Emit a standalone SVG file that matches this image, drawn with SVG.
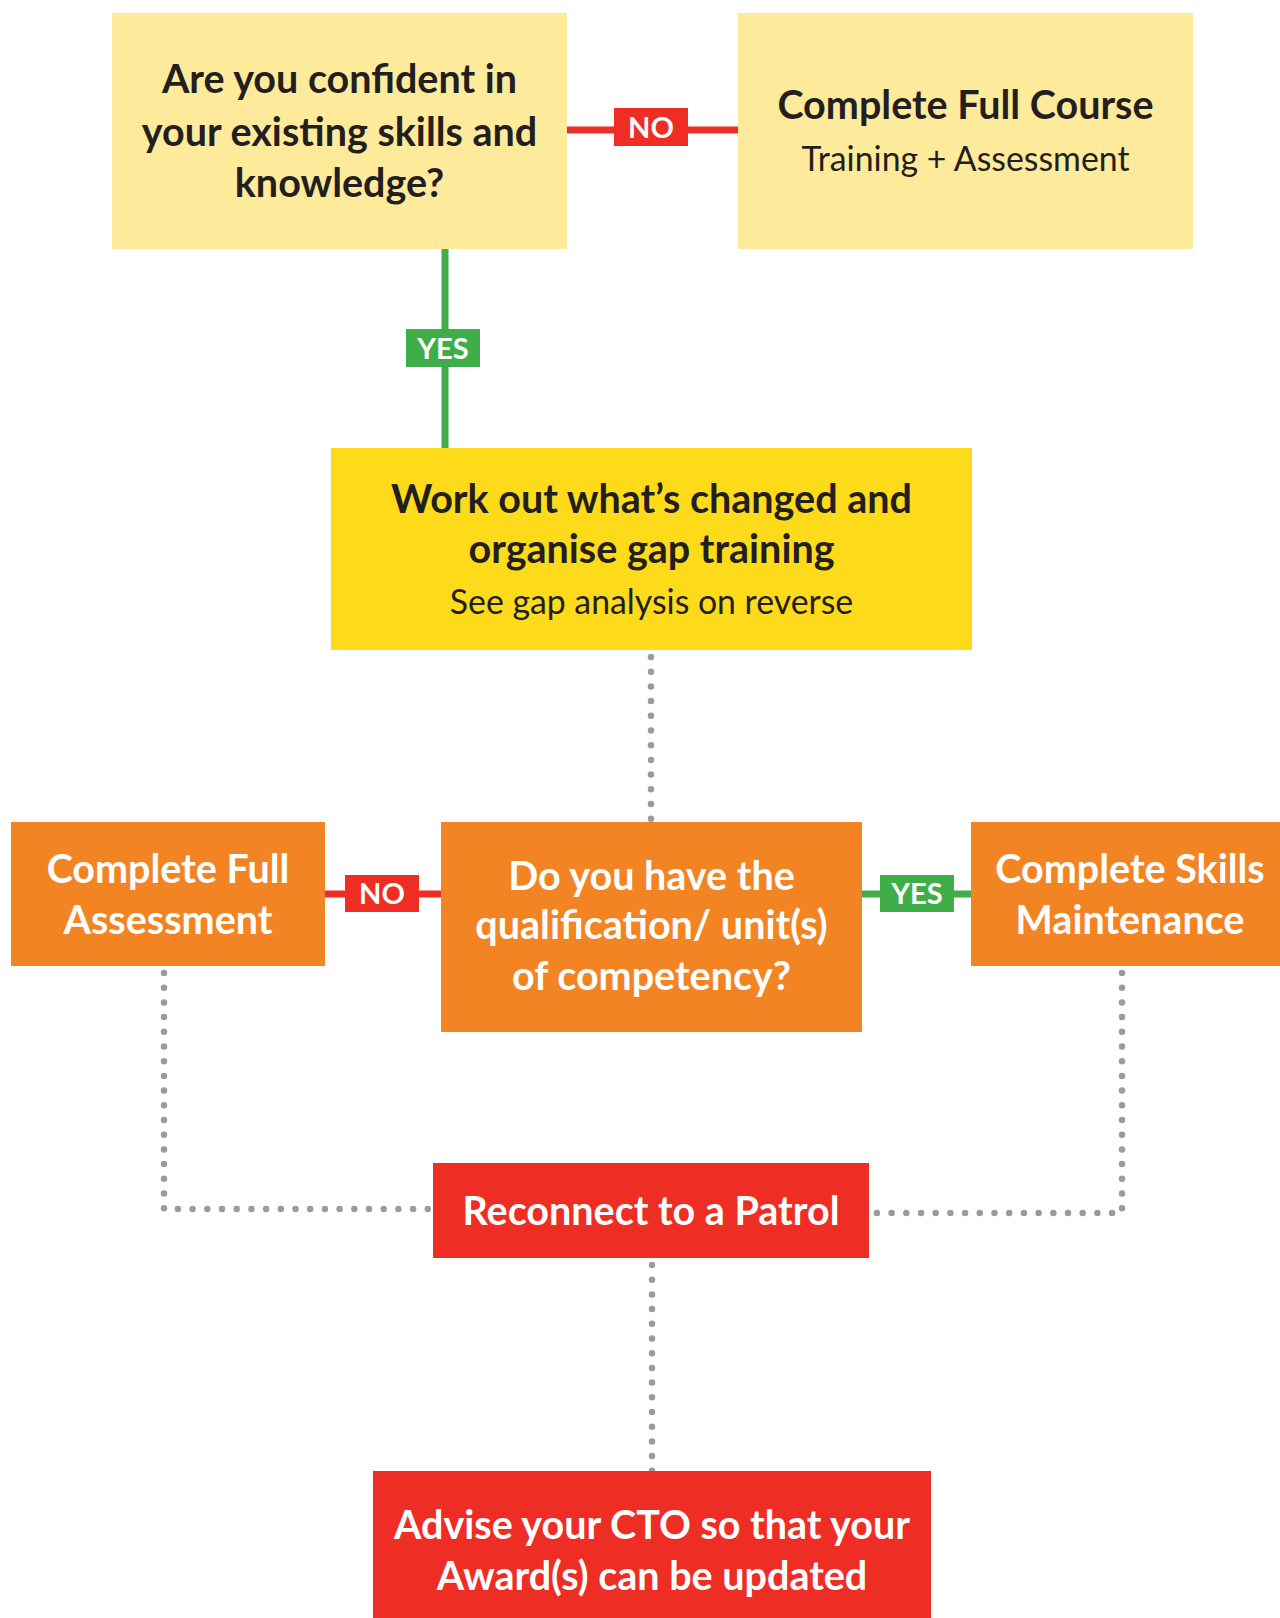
<svg xmlns="http://www.w3.org/2000/svg" width="1280" height="1618" viewBox="0 0 1280 1618">
<style>
text{font-family:Lato,"Open Sans","Liberation Sans",sans-serif;text-anchor:middle}
.b{font-weight:700;font-size:39.5px}
.r{font-weight:400;font-size:33.8px}
.dk{fill:#231f20}
.wt{fill:#ffffff}
.lbl{font-weight:700;font-size:29px;fill:#ffffff}
.dot{fill:none;stroke:#9b9b9f;stroke-width:6.5;stroke-linecap:round;stroke-dasharray:0 14.7}
</style>
<rect width="1280" height="1618" fill="#ffffff"/>
<g id="connectors">
  <line x1="567" y1="130" x2="738" y2="130" stroke="#ee2d24" stroke-width="7"/>
  <rect x="614" y="108" width="74" height="38" fill="#ee2d24"/>
  <text class="lbl" x="651" y="138">NO</text>
  <line x1="445" y1="249" x2="445" y2="448" stroke="#3fae49" stroke-width="7"/>
  <rect x="406" y="329" width="74" height="38" fill="#3fae49"/>
  <text class="lbl" x="443" y="359">YES</text>
  <line x1="325" y1="894" x2="441" y2="894" stroke="#ee2d24" stroke-width="7"/>
  <rect x="345" y="875" width="74" height="37" fill="#ee2d24"/>
  <text class="lbl" x="382" y="904">NO</text>
  <line x1="862" y1="894" x2="971" y2="894" stroke="#3fae49" stroke-width="7"/>
  <rect x="880" y="875" width="74" height="37" fill="#3fae49"/>
  <text class="lbl" x="917" y="904">YES</text>
  <path class="dot" d="M651 657 V822"/>
  <path class="dot" d="M164 973 V1209 H433"/>
  <path class="dot" d="M1122 973 V1213 H869"/>
  <path class="dot" d="M652 1265 V1471"/>
</g>
<g id="q1">
  <rect x="112" y="13" width="455" height="236" fill="#feea9b"/>
  <text class="b dk" x="339.5" y="93">Are you confident in</text>
  <text class="b dk" x="339.5" y="146">your existing skills and</text>
  <text class="b dk" x="339.5" y="197">knowledge?</text>
</g>
<g id="full-course">
  <rect x="738" y="13" width="455" height="236" fill="#feea9b"/>
  <text class="b dk" x="965.5" y="119">Complete Full Course</text>
  <text class="r dk" x="965.5" y="171">Training + Assessment</text>
</g>
<g id="gap">
  <rect x="331" y="448" width="641" height="202" fill="#fddb1a"/>
  <text class="b dk" x="651.5" y="513">Work out what’s changed and</text>
  <text class="b dk" x="651.5" y="563">organise gap training</text>
  <text class="r dk" x="651.5" y="614">See gap analysis on reverse</text>
</g>
<g id="q2">
  <rect x="441" y="822" width="421" height="210" fill="#f38424"/>
  <text class="b wt" x="651.5" y="890">Do you have the</text>
  <text class="b wt" x="651.5" y="939">qualification/ unit(s)</text>
  <text class="b wt" x="651.5" y="990">of competency?</text>
</g>
<g id="full-assessment">
  <rect x="11" y="822" width="314" height="144" fill="#f38424"/>
  <text class="b wt" x="168" y="883">Complete Full</text>
  <text class="b wt" x="168" y="934">Assessment</text>
</g>
<g id="skills">
  <rect x="971" y="822" width="309" height="144" fill="#f38424"/>
  <text class="b wt" x="1130" y="883">Complete Skills</text>
  <text class="b wt" x="1130" y="934">Maintenance</text>
</g>
<g id="reconnect">
  <rect x="433" y="1163" width="436" height="95" fill="#ee2d24"/>
  <text class="b wt" x="651" y="1225">Reconnect to a Patrol</text>
</g>
<g id="advise">
  <rect x="373" y="1471" width="558" height="147" fill="#ee2d24"/>
  <text class="b wt" x="652" y="1539">Advise your CTO so that your</text>
  <text class="b wt" x="652" y="1590">Award(s) can be updated</text>
</g>
</svg>
